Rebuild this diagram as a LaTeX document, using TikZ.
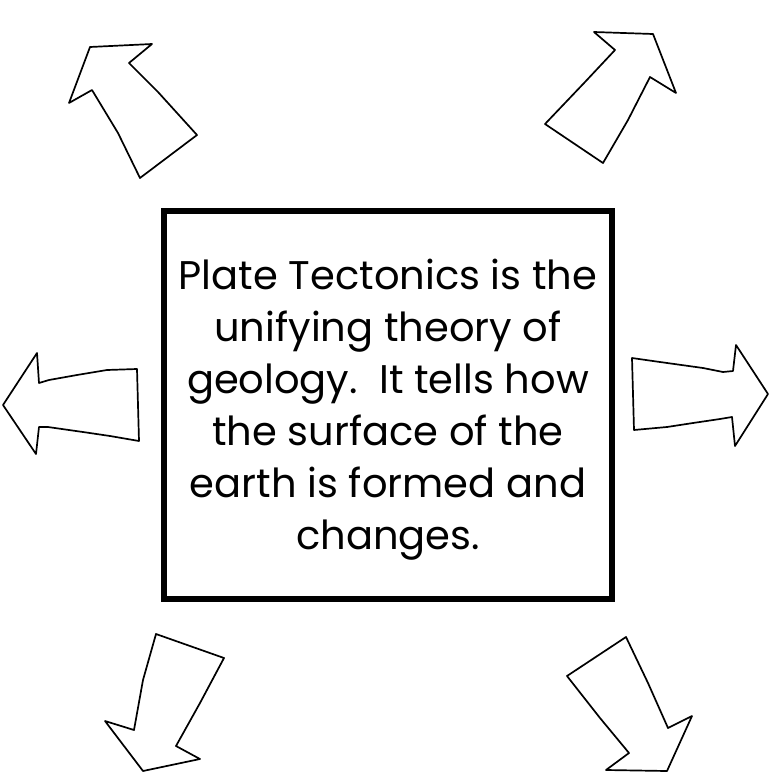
\documentclass[tikz,border=0pt]{standalone}
\usepackage{fontspec}
\setmainfont{Poppins}
\tikzset{
  handarrow/.style={draw=black,line width=1.7pt,line join=round,fill=white},
  theorybox/.style={draw=black,line width=5.5pt,minimum width=448pt,minimum height=388pt,inner sep=0pt}
}

\begin{document}
\begin{tikzpicture}[x=1pt,y=-1pt]
            \useasboundingbox (0,0) rectangle (771,774);             % Page of the scan
            \node[theorybox] (theory) at (388,405) {};              % Central frame
            \node[align=center,font=\fontsize{40}{52}\selectfont]
                (idea) at (388,410) {Plate Tectonics is the\\
                unifying theory of\\ geology.\ \ It tells how\\
                the surface of the\\ earth is formed and\\ changes.};
            % Upper left arrow
            \draw[handarrow] (140,178)--(118,133)--(92,90)--(69,103)
                --(90,47)--(152,44)--(129,63)--(158,92)--(197,135)--cycle;
            % Upper right arrow
            \draw[handarrow] (545,124)--(585,82)--(615,50)--(594,32)
                --(653,34)--(676,93)--(650,77)--(628,120)--(603,163)--cycle;
            % Left arrow
            \draw[handarrow] (139,441)--(110,436)--(83,432)--(48,427)--(39,427)
                --(36,454)--(3,405)--(37,353)--(39,383)--(49,380)--(77,375)
                --(107,370)--(137,369)--cycle;
            % Right arrow
            \draw[handarrow] (632,358)--(660,362)--(703,368)--(723,372)--(733,371)
                --(736,345)--(768,394)--(735,446)--(732,417)--(720,419)
                --(693,423)--(667,427)--(634,430)--cycle;
            % Lower left arrow
            \draw[handarrow] (156,634)--(224,658)--(200,703)--(176,746)--(200,759)
                --(143,771)--(105,721)--(134,730)--(143,680)--cycle;
            % Lower right arrow
            \draw[handarrow] (626,637)--(567,676)--(600,718)--(629,753)--(606,770)
                --(667,771)--(692,716)--(668,728)--(648,683)--cycle;
\end{tikzpicture}
\end{document}
